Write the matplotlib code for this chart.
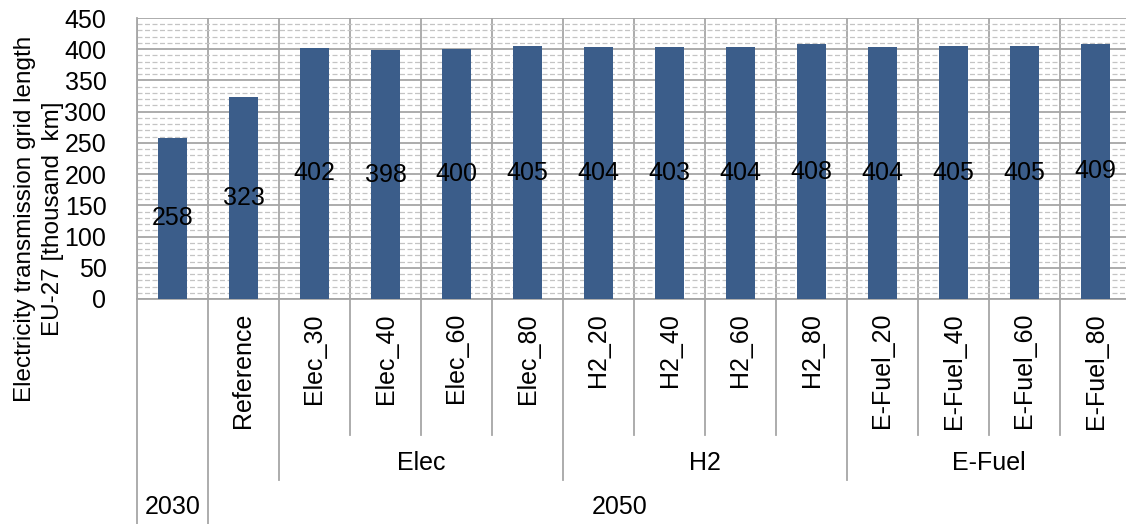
import matplotlib
matplotlib.use("Agg")
import matplotlib.pyplot as plt
from matplotlib.ticker import MultipleLocator, FixedLocator
import matplotlib.transforms as mtransforms

plt.rcParams["font.family"] = ["Liberation Sans", "DejaVu Sans"]

# Data
scenarios = ["", "Reference", "Elec_30", "Elec_40", "Elec_60", "Elec_80",
             "H2_20", "H2_40", "H2_60", "H2_80",
             "E-Fuel_20", "E-Fuel_40", "E-Fuel_60", "E-Fuel_80"]
grid_length = [258, 323, 402, 398, 400, 405, 404, 403, 404, 408, 404, 405, 405, 409]
groups = ["Elec", "H2", "E-Fuel"]
group_spans = [(2, 5), (6, 9), (10, 13)]
years = ["2030", "2050"]
year_spans = [(0, 0), (1, 13)]

W, H = 1126, 524
fig = plt.figure(figsize=(W / 100, H / 100), dpi=100)

left_px, right_px, top_px, bot_px = 137, 1131, 18, 299
ax = fig.add_axes([left_px / W, 1 - bot_px / H,
                   (right_px - left_px) / W, (bot_px - top_px) / H])

bar_color = "#3B5D8A"
major_c = "#A6A6A6"
minor_c = "#C4C4C4"
fs = 18

x = list(range(len(scenarios)))
bars = ax.bar(x, grid_length, width=0.4, color=bar_color, zorder=3)
for xi, v in zip(x, grid_length):
    ax.text(xi, v / 2, f"{v}", ha="center", va="center", fontsize=fs,
            color="black", zorder=4)

ax.set_xlim(-0.5, len(scenarios) - 0.5)
ax.set_ylim(0, 450)
ax.yaxis.set_major_locator(MultipleLocator(50))
ax.yaxis.set_minor_locator(MultipleLocator(10))
ax.xaxis.set_major_locator(FixedLocator([]))
ax.xaxis.set_minor_locator(FixedLocator([i + 0.5 for i in range(-1, len(scenarios))]))
ax.tick_params(axis="y", which="both", length=0, labelsize=fs, pad=22)
ax.tick_params(axis="x", which="both", length=0, labelbottom=False)

ax.grid(axis="y", which="major", color=major_c, lw=1.3, zorder=1)
ax.grid(axis="y", which="minor", color=minor_c, lw=0.9, ls=(0, (4, 2)), zorder=1)
ax.grid(axis="x", which="minor", color=major_c, lw=1.3, zorder=1)

for s in ["top", "right"]:
    ax.spines[s].set_visible(False)
for s in ["left", "bottom"]:
    ax.spines[s].set_color(major_c)
    ax.spines[s].set_linewidth(1.3)

# Multi-level category axis below the plot
trans = mtransforms.blended_transform_factory(ax.transData, ax.transAxes)
ax_h = bot_px - top_px

def yfrac(py):
    return (bot_px - py) / ax_h

leaf_bottom = yfrac(435)
group_bottom = yfrac(480)
fig_bottom = yfrac(H + 5)

group_edges = {s - 0.5 for s, e in group_spans} | {e + 0.5 for s, e in group_spans}
year_edges = {s - 0.5 for s, e in year_spans} | {e + 0.5 for s, e in year_spans}
for b in [i + 0.5 for i in range(-1, len(scenarios))]:
    if b in year_edges:
        y_end = fig_bottom
    elif b in group_edges:
        y_end = group_bottom
    else:
        y_end = leaf_bottom
    ax.plot([b, b], [0, y_end], transform=trans, color=major_c, lw=1.3,
            clip_on=False, zorder=2)

for xi, lab in zip(x, scenarios):
    ax.text(xi, yfrac(313), lab, transform=trans, rotation=90, ha="center",
            va="top", fontsize=fs)

for lab, (s, e) in zip(groups, group_spans):
    ax.text((s + e) / 2, yfrac(463), lab, transform=trans, ha="center",
            va="center", fontsize=fs)

for lab, (s, e) in zip(years, year_spans):
    xc = (s + e) / 2 if lab == "2030" else 6.3
    ax.text(xc, yfrac(507), lab, transform=trans, ha="center", va="center",
            fontsize=fs)

fig.text(39 / W, 1 - 219 / H,
         "Electricity transmission grid length\nEU-27 [thousand  km]",
         rotation=90, ha="center", va="center", fontsize=17.5,
         linespacing=1.3, multialignment="center")

fig.savefig("out.png", dpi=100)
